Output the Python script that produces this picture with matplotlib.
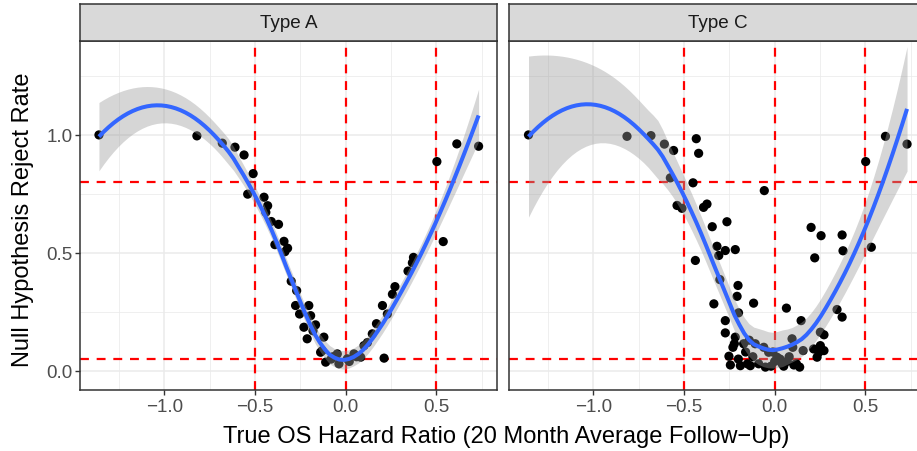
import numpy as np
import matplotlib.pyplot as plt

# hazard ratio (x) and reject rate (y) for each simulated scenario
type_a_hr = [-1.36, -0.82, -0.68, -0.61, -0.56, -0.51, -0.54, -0.45, -0.43, -0.44,
             -0.41, -0.37, -0.34, -0.39, -0.32, -0.335, -0.30, -0.27, -0.276, -0.203,
             -0.254, -0.193, -0.166, -0.23, -0.212, -0.12, -0.138, -0.11, -0.046, -0.037,
             0.009, 0.046, 0.083, 0.101, 0.147, 0.212, 0.203, 0.23, 0.258, 0.272,
             0.344, 0.368, 0.374, 0.503, 0.538, 0.613, 0.733, -0.08, 0.02, 0.06,
             -0.18, 0.12, 0.17, -0.129, -0.07]
type_a_rate = [1.0, 0.996, 0.965, 0.948, 0.915, 0.836, 0.749, 0.736, 0.70, 0.672,
               0.633, 0.621, 0.549, 0.535, 0.52, 0.505, 0.38, 0.34, 0.277, 0.277,
               0.241, 0.234, 0.195, 0.185, 0.136, 0.143, 0.079, 0.037, 0.072, 0.03,
               0.051, 0.072, 0.058, 0.107, 0.157, 0.054, 0.277, 0.241, 0.325, 0.357,
               0.423, 0.458, 0.481, 0.887, 0.548, 0.962, 0.952, 0.05, 0.04, 0.06,
               0.17, 0.12, 0.20, 0.086, 0.06]

type_c_hr = [-1.357, -0.814, -0.682, -0.608, -0.557, -0.432, -0.419, -0.575, -0.45, -0.057,
             -0.538, -0.511, -0.373, -0.392, -0.344, -0.263, -0.318, -0.272, -0.217, -0.308,
             -0.437, -0.302, -0.202, -0.207, -0.335, -0.116, -0.199, -0.272, -0.272, -0.217,
             -0.222, -0.171, -0.107, -0.252, -0.244, -0.189, -0.134, -0.088, -0.051, -0.033,
             0.013, 0.041, 0.068, 0.106, 0.138, 0.096, 0.157, 0.065, 0.146, 0.201,
             0.256, 0.221, 0.372, 0.377, 0.344, 0.372, 0.252, 0.272, 0.215, 0.252,
             0.244, 0.272, 0.234, 0.502, 0.533, 0.611, 0.730, -0.15, -0.02, 0.03,
             -0.20, -0.16, -0.12, -0.06, 0.0, 0.05, 0.08, 0.10, -0.01, 0.12,
             -0.23, -0.14]
type_c_rate = [1.0, 0.994, 0.997, 0.961, 0.934, 0.984, 0.922, 0.818, 0.797, 0.764,
               0.701, 0.689, 0.707, 0.693, 0.611, 0.632, 0.528, 0.51, 0.514, 0.489,
               0.468, 0.387, 0.362, 0.316, 0.284, 0.287, 0.246, 0.213, 0.161, 0.143,
               0.115, 0.115, 0.115, 0.062, 0.025, 0.022, 0.022, 0.03, 0.016, 0.079,
               0.058, 0.03, 0.04, 0.025, 0.016, 0.136, 0.086, 0.266, 0.213, 0.608,
               0.573, 0.479, 0.576, 0.509, 0.26, 0.228, 0.164, 0.153, 0.093, 0.107,
               0.079, 0.086, 0.058, 0.887, 0.524, 0.994, 0.961, 0.03, 0.02, 0.05,
               0.05, 0.08, 0.06, 0.10, 0.04, 0.02, 0.06, 0.10, 0.08, 0.03,
               0.10, 0.13]

panels = [("Type A", type_a_hr, type_a_rate), ("Type C", type_c_hr, type_c_rate)]
x_ticks = [-1.0, -0.5, 0.0, 0.5]
y_ticks = [0.0, 0.5, 1.0]
v_cuts = [-0.5, 0.0, 0.5]
h_cuts = [0.05, 0.8]


def loess_row(x, x0, q):
    # local quadratic fit with tricube weights, returns the hat-matrix row at x0
    d = np.abs(x - x0)
    h = np.sort(d)[q - 1]
    w = np.clip(1 - (d / h) ** 3, 0, None) ** 3
    X = np.column_stack([np.ones_like(x), x - x0, (x - x0) ** 2])
    XtW = X.T * w
    return np.linalg.solve(XtW @ X, XtW)[0]


def loess(x, y, grid, span=0.75):
    x = np.asarray(x, float)
    y = np.asarray(y, float)
    n = len(x)
    q = int(np.floor(n * span))
    L = np.array([loess_row(x, xi, q) for xi in x])
    resid = y - L @ y
    R = np.eye(n) - L
    delta1 = np.trace(R.T @ R)
    s = np.sqrt(np.sum(resid ** 2) / delta1)
    rows = np.array([loess_row(x, g, q) for g in grid])
    fit = rows @ y
    se = s * np.sqrt(np.sum(rows ** 2, axis=1))
    return fit, fit - 2.01 * se, fit + 2.01 * se


plt.rcParams['font.family'] = ['Liberation Sans', 'DejaVu Sans']
fig = plt.figure(figsize=(9.17, 4.52), dpi=100)
W, H = 917, 452

for i, (name, hr, rate) in enumerate(panels):
    left = 80 if i == 0 else 509
    width = 417
    ax = fig.add_axes([left / W, (H - 391) / H, width / W, 349 / H])
    ax.set_xlim(-1.4645, 0.8345)
    ax.set_ylim(-0.081, 1.398)
    ax.set_xticks(x_ticks)
    ax.set_xticks([-1.25, -0.75, -0.25, 0.25, 0.75], minor=True)
    ax.set_yticks(y_ticks)
    ax.set_yticks([0.25, 0.75, 1.25], minor=True)
    ax.grid(which='major', color='#EBEBEB', lw=1.1)
    ax.grid(which='minor', color='#EBEBEB', lw=0.55)
    ax.set_axisbelow(True)
    ax.tick_params(which='minor', length=0)
    ax.tick_params(which='major', length=3.5, width=1.0, color='#333333',
                   labelsize=13.6, labelcolor='#4D4D4D', pad=2)
    ax.set_xticklabels(["\u22121.0", "\u22120.5", "0.0", "0.5"])
    if i == 0:
        ax.set_yticklabels(["0.0", "0.5", "1.0"])
    else:
        ax.tick_params(axis='y', left=False, labelleft=False)
    for sp in ax.spines.values():
        sp.set_color('#333333')
        sp.set_linewidth(1.1)

    for v in v_cuts:
        ax.axvline(v, color='red', lw=1.6, ls=(0, (4, 3.5)), zorder=2)
    for hv in h_cuts:
        ax.axhline(hv, color='red', lw=1.6, ls=(0, (4, 3.5)), zorder=2)

    ax.scatter(hr, rate, s=44, color='black', edgecolors='none', zorder=3)

    grid = np.linspace(min(hr), max(hr), 80)
    fit, lo, hi = loess(hr, rate, grid)
    ax.fill_between(grid, lo, hi, color='#999999', alpha=0.4, lw=0, zorder=4)
    ax.plot(grid, fit, color='#3366FF', lw=2.9, zorder=5, solid_capstyle='butt')

    # facet strip
    sax = fig.add_axes([left / W, (H - 42) / H, width / W, 37 / H])
    sax.set_xticks([])
    sax.set_yticks([])
    sax.set_facecolor('#D9D9D9')
    for sp in sax.spines.values():
        sp.set_color('#333333')
        sp.set_linewidth(1.1)
    sax.text(0.5, 0.5, name, ha='center', va='center', fontsize=13.6,
             color='#1A1A1A', transform=sax.transAxes)

fig.text(506 / W, 1 - 437 / H, "True OS Hazard Ratio (20 Month Average Follow\u2212Up)",
         ha='center', va='center', fontsize=17)
fig.text(23 / W, 1 - 220 / H, "Null Hypothesis Reject Rate", rotation=90,
         ha='center', va='center', fontsize=17)

fig.savefig("out.png", dpi=100)
